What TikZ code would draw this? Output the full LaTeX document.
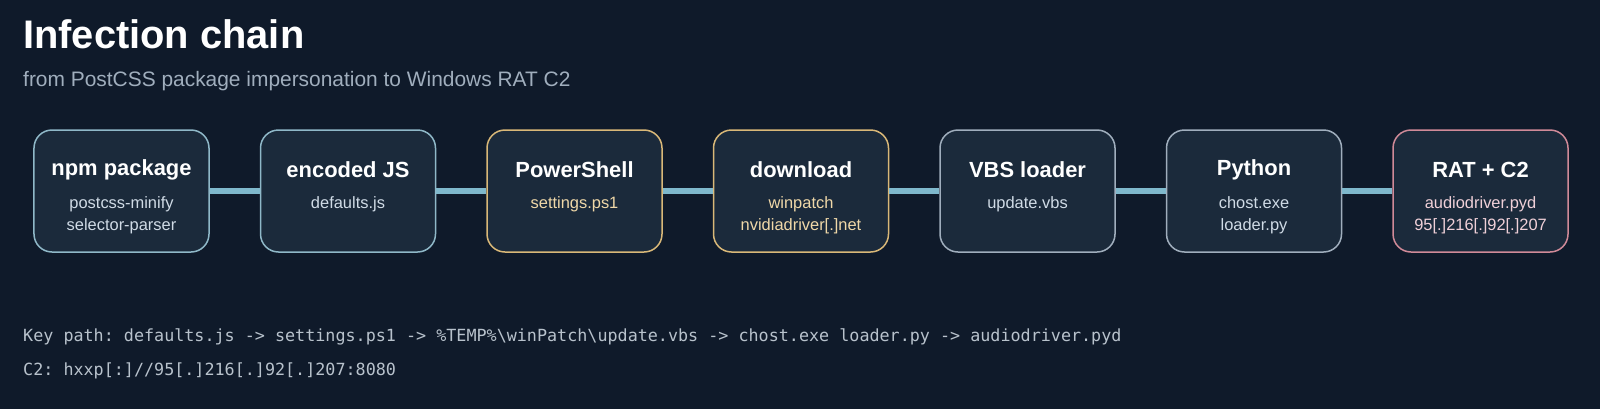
\documentclass[tikz,border=0pt]{standalone}
\usepackage{fontspec}
\setmainfont{Liberation Sans}
\setmonofont{DejaVu Sans Mono}
\usetikzlibrary{positioning}
\definecolor{bgcol}{HTML}{0F1A2A}
\definecolor{boxfill}{HTML}{1B2A3B}
\definecolor{edgeblue}{HTML}{8FB8C8}
\definecolor{edgegold}{HTML}{D9B878}
\definecolor{edgegrey}{HTML}{A0AEBD}
\definecolor{edgered}{HTML}{D08A98}
\definecolor{linkcol}{HTML}{7FB8CC}
\definecolor{subtxt}{HTML}{D0DBE6}
\definecolor{goldtxt}{HTML}{F0D8A8}
\definecolor{redtxt}{HTML}{F0D0D8}
\definecolor{keytxt}{HTML}{B8C2CC}

\begin{document}
\begin{tikzpicture}[x=1bp,y=-1bp,
            stage/.style={draw=edgeblue, line width=1.5bp, fill=boxfill, rounded corners=18bp,
              minimum width=175bp, minimum height=122bp, align=center, inner sep=0pt},
            gold/.style={stage, draw=edgegold},
            grey/.style={stage, draw=edgegrey},
            red/.style={stage, draw=edgered},
            link/.style={draw=linkcol, line width=6bp}]
        \useasboundingbox[fill=bgcol] (0,0) rectangle (1600,409);

        \node[anchor=base west, inner sep=0pt, text=white, font=\fontsize{40}{44}\selectfont\bfseries] (title) at (23,48) {Infection chain};
        \node[anchor=base west, inner sep=0pt, text=edgegrey, font=\fontsize{21}{24}\selectfont] (sub) at (23,86) {from PostCSS package impersonation to Windows RAT C2};

        \node[stage] (npm) at (121.5,191) {};
        \node[stage, right=50bp of npm] (enc) {};
        \node[gold, right=50bp of enc] (ps) {};
        \node[gold, right=50bp of ps] (dl) {};
        \node[grey, right=50bp of dl] (vbs) {};
        \node[grey, right=50bp of vbs] (py) {};
        \node[red, right=50bp of py] (rat) {};

        \foreach \a/\b in {npm/enc, enc/ps, ps/dl, dl/vbs, vbs/py, py/rat}
          \draw[link] (\a.east) -- (\b.west);

        % titles and file names
        \foreach \n/\t/\s/\c in {npm/npm package/{postcss-minify\\selector-parser}/subtxt,
                                enc/encoded JS/defaults.js/subtxt,
                                ps/PowerShell/settings.ps1/goldtxt,
                                dl/download/{winpatch\\nvidiadriver[.]net}/goldtxt,
                                vbs/VBS loader/update.vbs/subtxt,
                                py/Python/{chost.exe\\loader.py}/subtxt,
                                rat/RAT + C2/{audiodriver.pyd\\95[.]216[.]92[.]207}/redtxt} {
          \node[text=white, font=\fontsize{22}{26}\selectfont\bfseries] (\n-h) at ([yshift=21bp]\n.center) {\t};
          \node[anchor=north, text=\c, align=center, font=\fontsize{16.5}{22}\selectfont] (\n-f) at ([yshift=-2bp]\n.center) {\s};
        }

        \node[anchor=base west, inner sep=0pt, text=keytxt, font=\fontsize{16.8}{20}\ttfamily] (key) at (23,341) {Key path: defaults.js -> settings.ps1 -> \%TEMP\%\textbackslash winPatch\textbackslash update.vbs -> chost.exe loader.py -> audiodriver.pyd};
        \node[anchor=base west, inner sep=0pt, text=keytxt, font=\fontsize{16.8}{20}\ttfamily] (c2) at (23,375) {C2: hxxp[:]//95[.]216[.]92[.]207:8080};
    \end{tikzpicture}
\end{document}
